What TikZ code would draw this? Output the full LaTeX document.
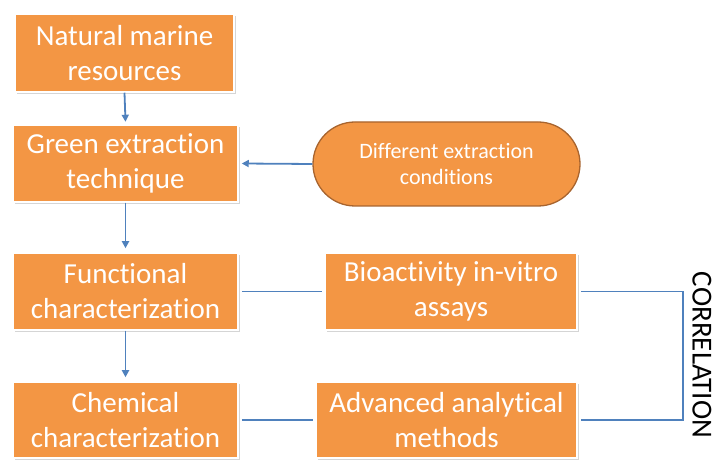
\documentclass[tikz,border=0pt]{standalone}
\usepackage{fontspec}
\setmainfont{Carlito}[Ligatures=NoCommon]
\usetikzlibrary{shapes.misc,shadows,arrows.meta}
\definecolor{boxorange}{HTML}{F39644}
\definecolor{boxedge}{HTML}{A8642E}
\definecolor{linkblue}{HTML}{4F81BD}
\begin{document}
\begin{tikzpicture}[x=1pt,y=-1pt,
  stepbox/.style={rectangle, fill=boxorange, draw=white, line width=1.5pt,
    text=white, align=center, inner sep=0pt,
    font=\fontsize{29}{35}\selectfont,
    drop shadow={shadow xshift=1.5pt, shadow yshift=-2pt, fill=black!30, opacity=.55}},
  condbox/.style={rounded rectangle, fill=boxorange, draw=boxedge, line width=1.3pt,
    text=white, align=center, inner sep=0pt, minimum width=267pt, minimum height=84pt,
    font=\fontsize{22}{26.5}\selectfont},
  flow/.style={draw=linkblue, line width=1.8pt, -{Triangle[length=7pt,width=7pt]}},
  link/.style={draw=linkblue, line width=1.8pt}
]
\useasboundingbox (0,0) rectangle (713,462);

% main chain
\node[stepbox, minimum width=219pt, minimum height=78pt] (nat) at (124.5,53) {Natural marine\\resources};
\node[stepbox, minimum width=225pt, minimum height=77pt] (green) at (125.5,163.5) {Green extraction\\technique};
\node[stepbox, minimum width=225pt, minimum height=77pt] (func) at (125.5,291.5) {Functional\\characterization};
\node[stepbox, minimum width=225pt, minimum height=76pt] (chem) at (125.5,420) {Chemical\\characterization};

% side boxes
\node[condbox] (cond) at (446.5,164) {Different extraction\\conditions};
\node[stepbox, minimum width=252pt, minimum height=77pt] (bio) at (451,291.5) {Bioactivity in-vitro\\assays};
\node[stepbox, minimum width=261pt, minimum height=76pt] (adv) at (446.5,420) {Advanced analytical\\methods};

% arrows
\draw[flow] (nat.south) -- ([yshift=2.5pt]green.north);
\draw[flow] (green.south) -- ([yshift=4pt]func.north);
\draw[flow] (func.south) -- ([yshift=4pt]chem.north);
\draw[flow] (cond.west) -- ([xshift=3pt]green.east);

% links
\draw[link] ([xshift=3pt]func.east) -- ([xshift=-2pt]bio.west);
\draw[link] ([xshift=3pt]chem.east) -- ([xshift=-2pt]adv.west);
\coordinate (corr) at (683,291.5);
\draw[link] ([xshift=3pt]bio.east) -- (corr) |- ([xshift=3pt]adv.east);

\node[rotate=-90, font=\fontsize{29}{34}\selectfont, inner sep=0pt] (corrlabel) at (702,355) {CORRELATION};
\end{tikzpicture}
\end{document}
